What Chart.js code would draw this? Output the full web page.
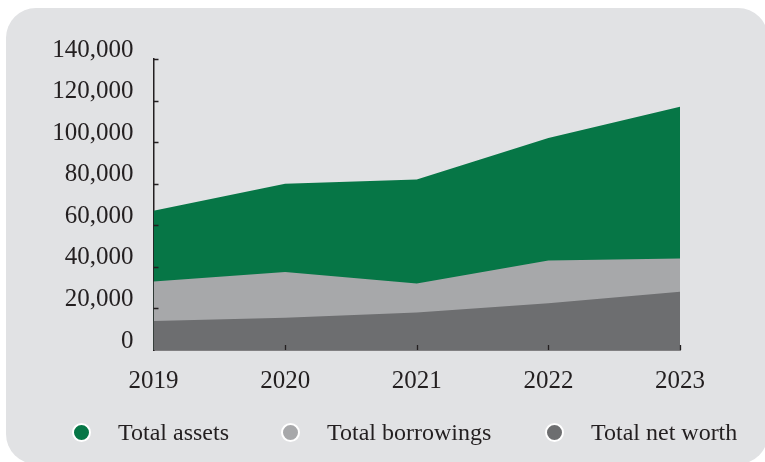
<!DOCTYPE html>
<html>
<head>
<meta charset="utf-8">
<script src="https://cdn.jsdelivr.net/npm/chart.js@4.4.0/dist/chart.umd.min.js"></script>
<style>
  html, body { margin: 0; padding: 0; background: #fff; }
  #wrap { position: relative; width: 765px; height: 462px; overflow: hidden; }
  #card { position: absolute; left: 6px; top: 8px; width: 762px; height: 456px;
          background: #e1e2e4; border-radius: 30px; }
  #chart { position: absolute; left: 0; top: 0; }
  .legend-item { position: absolute; top: 419px; display: flex; align-items: center;
                 font: 24px 'Liberation Serif', serif; color: #231f20; white-space: nowrap; }
  .dot { width: 15px; height: 15px; border-radius: 50%; border: 2.5px solid #fff; margin-right: 27px; }
</style>
</head>
<body>
<div id="wrap">
  <div id="card"></div>
  <canvas id="chart" width="765" height="462"></canvas>
  <div id="legend"></div>
</div>
<script>
const years = ['2019', '2020', '2021', '2022', '2023'];
const totalAssets = [67000, 80000, 82000, 102000, 117000];
const totalBorrowings = [33000, 37500, 32000, 43000, 44000];
const totalNetWorth = [14000, 15500, 18000, 22500, 28000];
const yTicks = [0, 20000, 40000, 60000, 80000, 100000, 120000, 140000];

const seriesNames = ['Total assets', 'Total borrowings', 'Total net worth'];
const seriesColors = ['#067646', '#a7a8aa', '#6d6e70'];
const legendLeft = [72, 281, 545];

const ink = '#231f20';
const serif = "'Liberation Serif', serif";

// small ticks pointing into the plot
const innerTicks = {
    id: 'innerTicks',
    afterDraw(chart) {
        const { ctx, chartArea, scales: { x, y } } = chart;
        ctx.save();
        ctx.strokeStyle = ink;
        ctx.lineWidth = 1.3;
        ctx.beginPath();
        yTicks.forEach(v => {
            if (v === 0) return;
            const py = Math.round(y.getPixelForValue(v)) + 0.5;
            ctx.moveTo(chartArea.left, py);
            ctx.lineTo(chartArea.left + 5, py);
        });
        years.forEach((yr, i) => {
            if (i === 0) return;
            const px = Math.round(x.getPixelForValue(i)) + 0.5;
            ctx.moveTo(px, chartArea.bottom);
            ctx.lineTo(px, chartArea.bottom - 5);
        });
        ctx.stroke();
        ctx.restore();
    }
};

function area(label, data, color, order) {
    return {
        label: label,
        data: data,
        backgroundColor: color,
        borderColor: 'transparent',
        borderWidth: 0,
        pointRadius: 0,
        fill: 'origin',
        tension: 0,
        order: order
    };
}

const ctx = document.getElementById('chart').getContext('2d');
new Chart(ctx, {
    type: 'line',
    data: {
        labels: years,
        datasets: [
            area(seriesNames[0], totalAssets, seriesColors[0], 3),
            area(seriesNames[1], totalBorrowings, seriesColors[1], 2),
            area(seriesNames[2], totalNetWorth, seriesColors[2], 1)
        ]
    },
    options: {
        responsive: false,
        animation: false,
        events: [],
        layout: { padding: { left: 0, right: 85, top: 59, bottom: 0 } },
        plugins: {
            legend: { display: false },
            tooltip: { enabled: false }
        },
        scales: {
            x: {
                z: 1,
                grid: { display: false },
                border: { display: true, color: ink, width: 1.5 },
                ticks: {
                    color: ink,
                    font: { family: serif, size: 25 },
                    padding: 8,
                    maxRotation: 0
                },
                afterFit(s) { s.height = 112; }
            },
            y: {
                z: 1,
                min: 0,
                max: 140000,
                grid: { display: false },
                border: { display: true, color: ink, width: 1.5 },
                afterBuildTicks(s) { s.ticks = yTicks.map(v => ({ value: v })); },
                ticks: {
                    color: ink,
                    font: { family: serif, size: 25, lineHeight: '18px' },
                    padding: 12,
                    // empty second line lifts the label so it sits just above its tick
                    callback: v => [v.toLocaleString('en-US'), '']
                },
                afterFit(s) { s.width = 153.5; }
            }
        }
    },
    plugins: [innerTicks]
});

// legend
const legend = document.getElementById('legend');
seriesNames.forEach((name, i) => {
    const item = document.createElement('div');
    item.className = 'legend-item';
    item.style.left = legendLeft[i] + 'px';
    item.innerHTML = `<span class="dot" style="background:${seriesColors[i]}"></span><span>${name}</span>`;
    legend.appendChild(item);
});
</script>
</body>
</html>
